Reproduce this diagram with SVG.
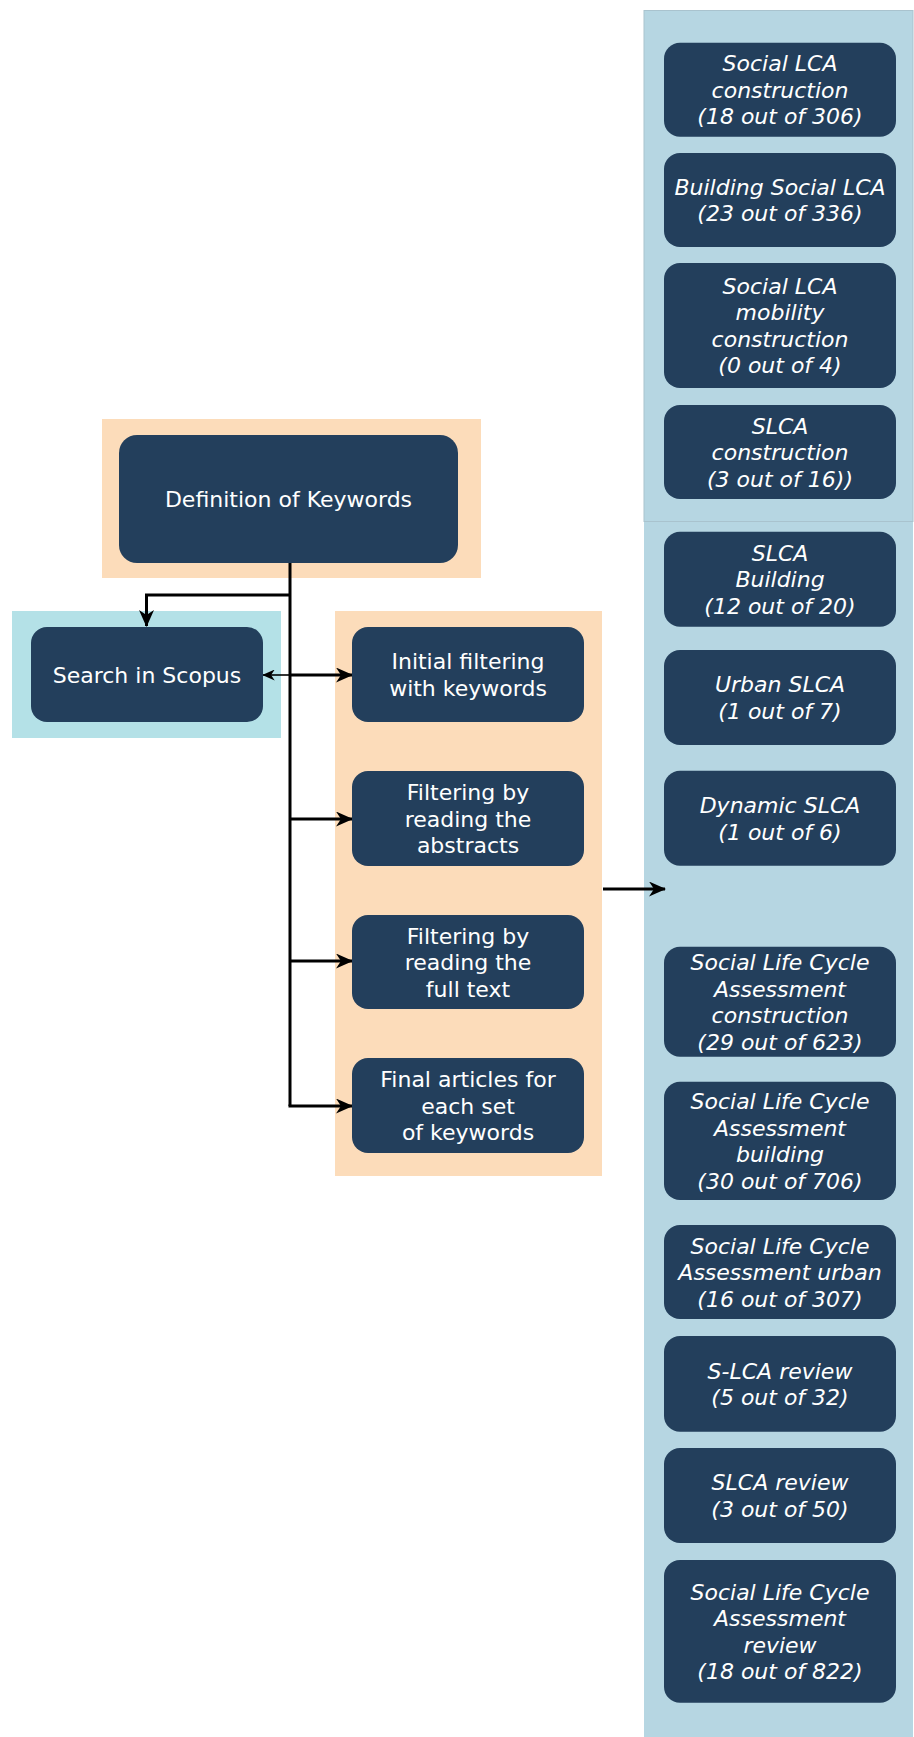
<svg xmlns="http://www.w3.org/2000/svg" width="914" height="1737" viewBox="0 0 914 1737">
<style>
.node{fill:#233f5c;}
.t{font-family:"DejaVu Sans",Verdana,sans-serif;font-size:22px;fill:#ffffff;text-anchor:middle;}
.i{font-style:italic;}
.orange{fill:#fcdcba;}
.cyan{fill:#b4e1e7;}
.blue{fill:#b6d6e2;}
.conn{fill:none;stroke:#000000;stroke-width:3;stroke-linejoin:miter;}
.thin{fill:none;stroke:#000000;stroke-width:1.6;}
</style>
<defs>
<marker id="arr" viewBox="0 0 17 15" markerWidth="17" markerHeight="15" refX="16" refY="7.5" orient="auto" markerUnits="userSpaceOnUse">
<path d="M0,0 L17,7.5 L0,15 L5,7.5 z" fill="#000000"/>
</marker>
<marker id="arrs" viewBox="0 0 17 15" markerWidth="13" markerHeight="11" refX="16" refY="7.5" orient="auto" markerUnits="userSpaceOnUse">
<path d="M0,0 L17,7.5 L0,15 L5,7.5 z" fill="#000000"/>
</marker>
</defs>
<rect width="914" height="1737" fill="#ffffff"/>
<g id="containers">
<rect id="c-def" class="orange" x="102" y="419" width="379" height="159"/>
<rect id="c-search" class="cyan" x="12" y="611" width="269" height="127"/>
<rect id="c-filter" class="orange" x="335" y="611" width="267" height="565"/>
<rect id="c-top" class="blue" x="644" y="10.5" width="269" height="511" stroke="#a9c3ce" stroke-width="1"/>
<rect id="c-bottom" class="blue" x="644" y="522" width="269" height="1215"/>
</g>
<g id="connectors">
<path class="conn" d="M290,563 L290,1106"/>
<path class="conn" d="M290,595 L146.5,595 L146.5,626" marker-end="url(#arr)"/>
<path class="thin" d="M290,675 L263,675" marker-end="url(#arrs)"/>
<path class="conn" d="M290,675 L352,675" marker-end="url(#arr)"/>
<path class="conn" d="M290,819 L352,819" marker-end="url(#arr)"/>
<path class="conn" d="M290,961 L352,961" marker-end="url(#arr)"/>
<path class="conn" d="M288.5,1106 L352,1106" marker-end="url(#arr)"/>
<path class="conn" d="M603,889 L665,889" marker-end="url(#arr)"/>
</g>
<g id="n-def"><rect class="node" x="119" y="435" width="339" height="128" rx="18"/>
<text class="t" x="288.5" y="507">Definition of Keywords</text></g>
<g id="n-search"><rect class="node" x="31" y="627" width="232" height="95" rx="16"/>
<text class="t" x="147" y="682.5">Search in Scopus</text></g>
<g id="n-initial"><rect class="node" x="352" y="627" width="232" height="95" rx="16"/>
<text class="t" x="468"><tspan x="468" y="669.25">Initial filtering</tspan><tspan x="468" y="695.75">with keywords</tspan></text></g>
<g id="n-abstracts"><rect class="node" x="352" y="771" width="232" height="95" rx="16"/>
<text class="t"><tspan x="468" y="800">Filtering by</tspan><tspan x="468" y="826.5">reading the</tspan><tspan x="468" y="853">abstracts</tspan></text></g>
<g id="n-fulltext"><rect class="node" x="352" y="915" width="232" height="94" rx="16"/>
<text class="t"><tspan x="468" y="943.5">Filtering by</tspan><tspan x="468" y="970">reading the</tspan><tspan x="468" y="996.5">full text</tspan></text></g>
<g id="n-final"><rect class="node" x="352" y="1058" width="232" height="95" rx="16"/>
<text class="t"><tspan x="468" y="1087">Final articles for</tspan><tspan x="468" y="1113.5">each set</tspan><tspan x="468" y="1140">of keywords</tspan></text></g>
<g id="r1"><rect class="node" x="664" y="42.7" width="232" height="94" rx="16"/>
<text class="t i"><tspan x="780" y="71.2">Social LCA</tspan><tspan x="780" y="97.7">construction</tspan><tspan x="780" y="124.2">(18 out of 306)</tspan></text></g>
<g id="r2"><rect class="node" x="664" y="153" width="232" height="94" rx="16"/>
<text class="t i"><tspan x="780" y="194.75">Building Social LCA</tspan><tspan x="780" y="221.25">(23 out of 336)</tspan></text></g>
<g id="r3"><rect class="node" x="664" y="263" width="232" height="125" rx="16"/>
<text class="t i"><tspan x="780" y="293.75">Social LCA</tspan><tspan x="780" y="320.25">mobility</tspan><tspan x="780" y="346.75">construction</tspan><tspan x="780" y="373.25">(0 out of 4)</tspan></text></g>
<g id="r4"><rect class="node" x="664" y="405" width="232" height="94" rx="16"/>
<text class="t i"><tspan x="780" y="433.5">SLCA</tspan><tspan x="780" y="460">construction</tspan><tspan x="780" y="486.5">(3 out of 16))</tspan></text></g>
<g id="r5"><rect class="node" x="664" y="531.7" width="232" height="95" rx="16"/>
<text class="t i"><tspan x="780" y="560.7">SLCA</tspan><tspan x="780" y="587.2">Building</tspan><tspan x="780" y="613.7">(12 out of 20)</tspan></text></g>
<g id="r6"><rect class="node" x="664" y="650" width="232" height="95" rx="16"/>
<text class="t i"><tspan x="780" y="692.25">Urban SLCA</tspan><tspan x="780" y="718.75">(1 out of 7)</tspan></text></g>
<g id="r7"><rect class="node" x="664" y="770.7" width="232" height="95" rx="16"/>
<text class="t i"><tspan x="780" y="813">Dynamic SLCA</tspan><tspan x="780" y="839.5">(1 out of 6)</tspan></text></g>
<g id="r8"><rect class="node" x="664" y="946.7" width="232" height="110" rx="16"/>
<text class="t i"><tspan x="780" y="970">Social Life Cycle</tspan><tspan x="780" y="996.5">Assessment</tspan><tspan x="780" y="1023">construction</tspan><tspan x="780" y="1049.5">(29 out of 623)</tspan></text></g>
<g id="r9"><rect class="node" x="664" y="1081.7" width="232" height="118.3" rx="16"/>
<text class="t i"><tspan x="780" y="1109.1">Social Life Cycle</tspan><tspan x="780" y="1135.6">Assessment</tspan><tspan x="780" y="1162.1">building</tspan><tspan x="780" y="1188.6">(30 out of 706)</tspan></text></g>
<g id="r10"><rect class="node" x="664" y="1225" width="232" height="94" rx="16"/>
<text class="t i"><tspan x="780" y="1253.5">Social Life Cycle</tspan><tspan x="780" y="1280">Assessment urban</tspan><tspan x="780" y="1306.5">(16 out of 307)</tspan></text></g>
<g id="r11"><rect class="node" x="664" y="1336" width="232" height="95.7" rx="16"/>
<text class="t i"><tspan x="780" y="1378.6">S-LCA review</tspan><tspan x="780" y="1405.1">(5 out of 32)</tspan></text></g>
<g id="r12"><rect class="node" x="664" y="1448" width="232" height="95" rx="16"/>
<text class="t i"><tspan x="780" y="1490.25">SLCA review</tspan><tspan x="780" y="1516.75">(3 out of 50)</tspan></text></g>
<g id="r13"><rect class="node" x="664" y="1560" width="232" height="142.7" rx="16"/>
<text class="t i"><tspan x="780" y="1599.6">Social Life Cycle</tspan><tspan x="780" y="1626.1">Assessment</tspan><tspan x="780" y="1652.6">review</tspan><tspan x="780" y="1679.1">(18 out of 822)</tspan></text></g>
</svg>
